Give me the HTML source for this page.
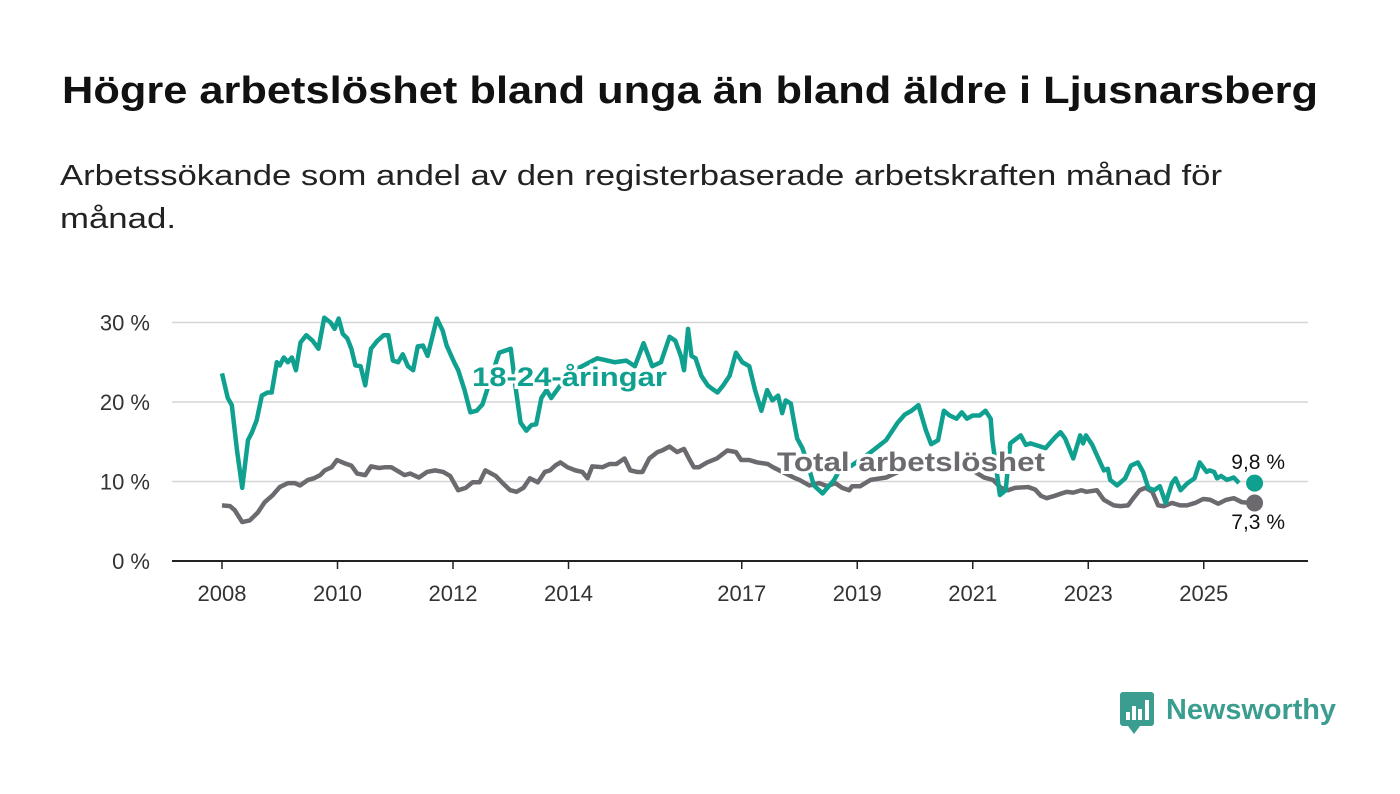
<!DOCTYPE html>
<html><head><meta charset="utf-8"><style>
body{margin:0;background:#fff;width:1400px;height:794px;overflow:hidden;font-family:"Liberation Sans",sans-serif}
svg{position:absolute;left:0;top:0}
</style></head><body>
<svg width="1400" height="794" id="c">
<text x="62" y="103" font-size="38" font-weight="bold" fill="#111" textLength="1256" lengthAdjust="spacingAndGlyphs">Högre arbetslöshet bland unga än bland äldre i Ljusnarsberg</text>
<text x="60" y="185" font-size="29" fill="#222" textLength="1162" lengthAdjust="spacingAndGlyphs">Arbetssökande som andel av den registerbaserade arbetskraften månad för</text>
<text x="60" y="228" font-size="29" fill="#222" textLength="116" lengthAdjust="spacingAndGlyphs">månad.</text>
<g id="grid"></g><g id="lines"></g><g id="labels"></g>
<g>
<rect x="1120" y="692" width="34" height="34" rx="3" fill="#3a9d8f"/>
<polygon points="1128,726 1140,726 1134,734" fill="#3a9d8f"/>
<rect x="1126" y="712" width="4" height="8" fill="#fff"/><rect x="1132" y="706" width="4" height="14" fill="#fff"/><rect x="1138" y="709" width="4" height="11" fill="#fff"/><rect x="1145" y="700" width="4" height="20" fill="#fff"/>
<text x="1166" y="719" font-size="29" font-weight="bold" fill="#3a9d8f" textLength="170" lengthAdjust="spacingAndGlyphs">Newsworthy</text>
</g>
</svg>
<script>
const yTicks=[0,10,20,30];
const xTicks=[2008,2010,2012,2014,2017,2019,2021,2023,2025];
const youthDates=[2008.0,2008.1,2008.17,2008.26,2008.35,2008.45,2008.52,2008.6,2008.69,2008.79,2008.86,2008.95,2009.0,2009.07,2009.14,2009.21,2009.28,2009.36,2009.46,2009.57,2009.67,2009.77,2009.88,2009.95,2010.02,2010.09,2010.17,2010.24,2010.31,2010.4,2010.48,2010.58,2010.69,2010.8,2010.88,2010.96,2011.05,2011.13,2011.22,2011.31,2011.39,2011.48,2011.56,2011.65,2011.72,2011.82,2011.89,2012.02,2012.09,2012.2,2012.3,2012.41,2012.51,2012.7,2012.8,2013.0,2013.09,2013.17,2013.27,2013.36,2013.44,2013.53,2013.62,2013.7,2013.85,2014.1,2014.5,2014.8,2015.0,2015.15,2015.3,2015.45,2015.6,2015.75,2015.85,2015.95,2016.0,2016.07,2016.13,2016.2,2016.3,2016.41,2016.48,2016.58,2016.68,2016.79,2016.9,2017.01,2017.13,2017.23,2017.34,2017.44,2017.53,2017.63,2017.7,2017.76,2017.85,2017.9,2017.96,2018.05,2018.15,2018.25,2018.4,2018.6,2018.7,2018.9,2019.2,2019.5,2019.7,2019.82,2019.94,2020.06,2020.19,2020.28,2020.4,2020.5,2020.6,2020.72,2020.81,2020.9,2021.0,2021.12,2021.22,2021.31,2021.34,2021.43,2021.47,2021.57,2021.65,2021.83,2021.92,2022.0,2022.26,2022.43,2022.52,2022.6,2022.74,2022.86,2022.91,2022.96,2023.07,2023.15,2023.27,2023.34,2023.38,2023.5,2023.64,2023.74,2023.86,2023.95,2024.04,2024.14,2024.24,2024.34,2024.45,2024.51,2024.6,2024.72,2024.84,2024.93,2025.05,2025.1,2025.18,2025.23,2025.3,2025.4,2025.52,2025.61,2025.69,2025.74,2025.88];
const youthValues=[23.6,20.5,19.6,13.9,9.2,15.2,16.2,17.7,20.8,21.2,21.2,25,24.6,25.6,25,25.6,24,27.5,28.4,27.7,26.7,30.6,30,29.2,30.5,28.6,28,26.7,24.6,24.5,22.1,26.7,27.7,28.4,28.4,25.2,25,26,24.5,24,27,27.1,25.8,28.4,30.5,29,27.1,25,24,21.5,18.7,18.9,19.7,24,26.2,26.7,21.5,17.4,16.4,17.1,17.2,20.5,21.5,20.5,22,24,25.5,25,25.2,24.5,27.4,24.5,25,28.2,27.7,25.7,24,29.2,25.8,25.5,23.3,22.1,21.7,21.2,22.1,23.3,26.2,25,24.5,21.5,18.9,21.5,20.2,20.8,18.6,20.2,19.8,17.7,15.4,14.2,12,9.5,8.5,10.2,11.5,12,13.5,15.2,17.4,18.4,18.9,19.6,16.4,14.7,15.2,18.9,18.3,17.9,18.7,17.9,18.3,18.3,18.9,17.9,15.2,10.4,8.3,8.9,14.8,15.8,14.6,14.8,14.2,15.6,16.2,15.4,12.9,15.8,14.8,15.8,14.6,13.3,11.4,11.6,10.2,9.5,10.4,12,12.4,11.2,9.2,8.9,9.4,7.3,9.8,10.4,8.9,9.8,10.4,12.4,11.2,11.4,11.2,10.4,10.7,10.2,10.5,9.8];
const totalDates=[2008.0,2008.14,2008.22,2008.35,2008.48,2008.62,2008.74,2008.88,2009.0,2009.14,2009.26,2009.35,2009.49,2009.59,2009.7,2009.78,2009.9,2009.99,2010.12,2010.24,2010.34,2010.48,2010.58,2010.72,2010.83,2010.93,2011.07,2011.16,2011.26,2011.41,2011.55,2011.69,2011.83,2011.95,2012.09,2012.22,2012.34,2012.46,2012.56,2012.74,2012.86,2012.99,2013.1,2013.22,2013.33,2013.47,2013.59,2013.68,2013.77,2013.86,2013.98,2014.12,2014.24,2014.33,2014.41,2014.59,2014.71,2014.83,2014.97,2015.07,2015.19,2015.28,2015.4,2015.54,2015.62,2015.75,2015.88,2016.0,2016.1,2016.17,2016.26,2016.4,2016.57,2016.75,2016.9,2016.99,2017.13,2017.27,2017.45,2017.54,2017.9,2018.0,2018.17,2018.34,2018.48,2018.62,2018.74,2018.86,2018.91,2019.05,2019.14,2019.23,2019.5,2019.8,2020.1,2020.5,2020.9,2021.2,2021.35,2021.49,2021.61,2021.73,2021.96,2022.08,2022.18,2022.28,2022.42,2022.54,2022.63,2022.74,2022.88,2022.97,2023.15,2023.27,2023.44,2023.56,2023.69,2023.78,2023.89,2023.99,2024.11,2024.21,2024.31,2024.45,2024.59,2024.71,2024.85,2024.99,2025.11,2025.25,2025.39,2025.52,2025.66,2025.81,2025.88];
const totalValues=[7.0,6.9,6.4,4.9,5.1,6.1,7.4,8.3,9.3,9.8,9.8,9.5,10.2,10.4,10.8,11.4,11.8,12.7,12.3,12,11,10.8,11.9,11.7,11.8,11.8,11.2,10.8,11,10.5,11.2,11.4,11.2,10.7,8.9,9.2,9.9,9.9,11.4,10.7,9.8,8.9,8.7,9.2,10.4,9.9,11.2,11.4,12,12.4,11.8,11.4,11.2,10.4,11.9,11.8,12.2,12.2,12.9,11.4,11.2,11.2,12.9,13.7,13.9,14.4,13.7,14.1,12.7,11.8,11.8,12.4,12.9,13.9,13.7,12.7,12.7,12.4,12.2,11.8,10.5,10.2,9.5,9.8,9.4,9.8,9.2,8.9,9.4,9.4,9.8,10.2,10.5,11.5,12,12.5,11.8,10.5,10.2,9.2,8.9,9.2,9.3,9.0,8.2,7.9,8.2,8.5,8.7,8.6,8.9,8.7,8.9,7.7,7.0,6.9,7.0,7.9,8.9,9.2,8.7,7.0,6.9,7.3,7.0,7.0,7.3,7.8,7.7,7.2,7.7,7.9,7.4,7.3];
const NS='http://www.w3.org/2000/svg';
const X=v=>222+(v-2008)*57.75, Y=v=>561-v*7.95;
function mk(t,a,p){const e=document.createElementNS(NS,t);for(const k in a)e.setAttribute(k,a[k]);p.appendChild(e);return e;}
const g=document.getElementById('grid'),L=document.getElementById('lines'),Lb=document.getElementById('labels');
yTicks.forEach(v=>{
 if(v>0){const l=mk('line',{x1:172,x2:1308,y1:Y(v),y2:Y(v),stroke:'#d6d6d6','stroke-width':1.5},g);
 
 }
 const t=mk('text',{x:150,y:Y(v)+8,'font-size':22,fill:'#333','text-anchor':'end'},g);t.textContent=v+' %';
 
 
});
const ax=mk('line',{x1:172,x2:1308,y1:561,y2:561,stroke:'#222','stroke-width':2},g);


xTicks.forEach(v=>{
 mk('line',{x1:X(v),x2:X(v),y1:561,y2:569,stroke:'#222','stroke-width':1.5},g);
 const t=mk('text',{x:X(v),y:601,'font-size':22,fill:'#333','text-anchor':'middle'},g);t.textContent=v;
 
 
});
function line(d,v,c,n){const p=mk('polyline',{points:d.map((x,i)=>X(x)+','+Y(v[i])).join(' '),fill:'none',stroke:c,'stroke-width':4.5,'stroke-linejoin':'round'},L);
 
 
 const ci=mk('circle',{cx:X(d[d.length-1]),cy:Y(v[v.length-1]),r:8.5,fill:c},L);
 
 }
line(totalDates,totalValues,'#6c6a6f','total-line');
line(youthDates,youthValues,'#0fa08f','youth-line');
function lab(x,y,s,c,n,fs,w,a,len){const o={x:x,y:y,'font-size':fs,'font-weight':w,fill:c,stroke:'#fff','stroke-width':6,'paint-order':'stroke','text-anchor':a||'start'};if(len){o.textLength=len;o.lengthAdjust='spacingAndGlyphs';}
 const t=mk('text',o,Lb);t.textContent=s;
 
 }
lab(472,386,'18-24-åringar','#0fa08f','youth-series-label',27,'bold','start',195);
lab(777,471,'Total arbetslöshet','#6c6a6f','total-series-label',27,'bold','start',268);
lab(1285,469,'9,8 %','#111','youth-end-value',21,'normal','end');
lab(1285,529,'7,3 %','#111','total-end-value',21,'normal','end');
</script>
</body></html>
